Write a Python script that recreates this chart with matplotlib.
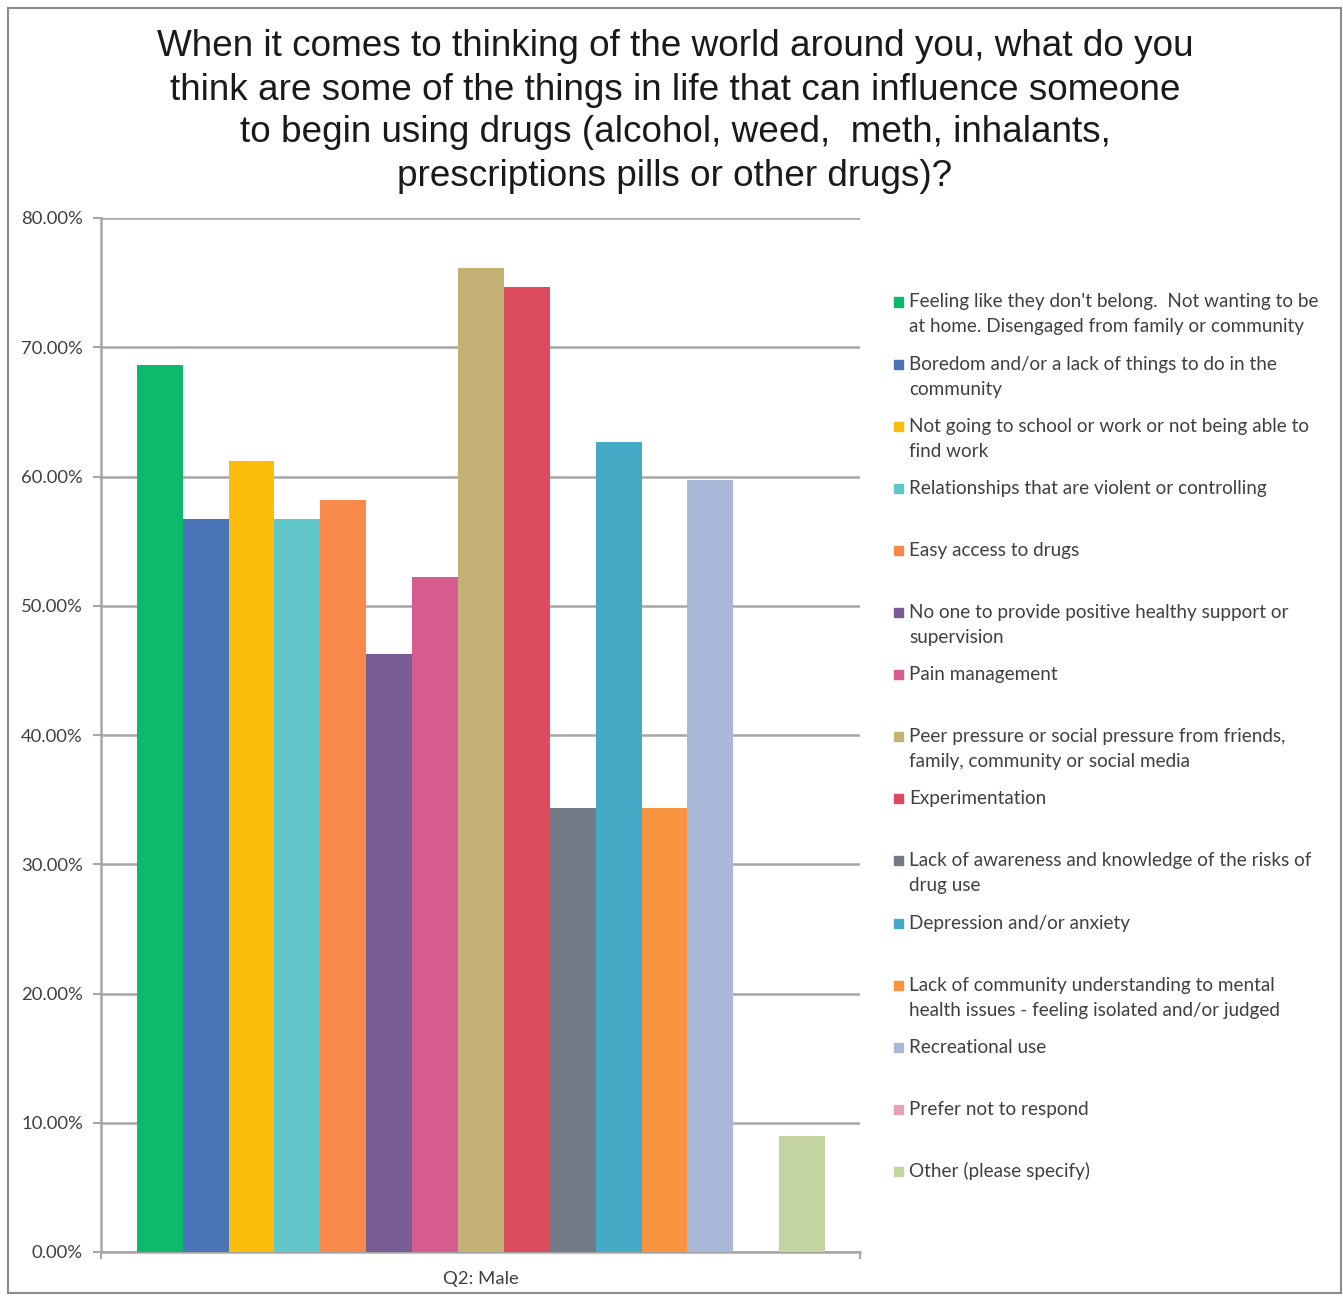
import matplotlib.pyplot as plt
from matplotlib.patches import Rectangle
from matplotlib.ticker import FuncFormatter
import numpy as np

# survey answers (share of respondents, %)
labels = [
    "Feeling like they don't belong.  Not wanting to be\nat home. Disengaged from family or community",
    "Boredom and/or a lack of things to do in the\ncommunity",
    "Not going to school or work or not being able to\nfind work",
    "Relationships that are violent or controlling",
    "Easy access to drugs",
    "No one to provide positive healthy support or\nsupervision",
    "Pain management",
    "Peer pressure or social pressure from friends,\nfamily, community or social media",
    "Experimentation",
    "Lack of awareness and knowledge of the risks of\ndrug use",
    "Depression and/or anxiety",
    "Lack of community understanding to mental\nhealth issues - feeling isolated and/or judged",
    "Recreational use",
    "Prefer not to respond",
    "Other (please specify)",
]
values = [68.66, 56.72, 61.19, 56.72, 58.21, 46.27, 52.24, 76.12,
          74.63, 34.33, 62.69, 34.33, 59.70, 0.00, 8.96]
colors = ["#0DBA6C", "#4A74B8", "#FBBC0B", "#62C7CB", "#F9894A",
          "#7A5C94", "#D65B8F", "#C4B176", "#DD4B5E", "#737C86",
          "#45AAC6", "#F8933F", "#A9B8D8", "#E2A3B3", "#C3D4A1"]
group = "Q2: Male"
title_lines = [
    "When it comes to thinking of the world around you, what do you",
    "think are some of the things in life that can influence someone",
    "to begin using drugs (alcohol, weed,  meth, inhalants,",
    "prescriptions pills or other drugs)?",
]

W, H = 1343, 1298
fig = plt.figure(figsize=(W / 100, H / 100), dpi=100)

def fx(px):
    return px / W

def fy(py):
    return 1 - py / H

grid_col = "#A6A6A6"
txt_col = "#404040"

ax = fig.add_axes([fx(101), fy(1252), fx(860) - fx(101), fy(218) - fy(1252)])
x = np.arange(len(values))
ax.bar(x, values, width=1.0, color=colors, zorder=3)

ax.set_ylim(0, 80)
ax.set_xlim(-1.28, len(values) - 1 + 1.26)
ax.set_yticks(np.arange(0, 81, 10))
ax.yaxis.set_major_formatter(FuncFormatter(lambda v, p: "%.2f%%" % v))
ax.set_xticks([(len(values) - 1) / 2])
ax.set_xticklabels([group])
ax.set_xticks(list(ax.get_xlim()), minor=True)
ax.tick_params(axis="x", which="major", length=0, pad=14)
ax.tick_params(axis="x", which="minor", length=5, width=1.5, color=grid_col)
ax.tick_params(axis="y", length=6, width=1.5, color=grid_col, pad=7)
for lab in ax.get_xticklabels() + ax.get_yticklabels():
    lab.set_family("Lato")
    lab.set_fontsize(13.3)
    lab.set_color(txt_col)

ax.grid(axis="y", color=grid_col, linewidth=1.8, zorder=0)
ax.set_axisbelow(True)
for s in ["top", "right"]:
    ax.spines[s].set_visible(False)
for s in ["left", "bottom"]:
    ax.spines[s].set_color(grid_col)
    ax.spines[s].set_linewidth(1.8)

# title, one line at a time
for i, line in enumerate(title_lines):
    fig.text(fx(675), fy(47 + 43 * i), line, ha="center", va="center",
             family="Liberation Sans", fontsize=26.6, color="#1A1A1A")

# legend drawn as fixed slots
for i, (lab, c) in enumerate(zip(labels, colors)):
    yc = 302 + 62.1 * i
    fig.patches.append(Rectangle((fx(894), fy(yc + 4.5)), fx(9), 9 / H,
                                 transform=fig.transFigure, color=c))
    for j, part in enumerate(lab.split("\n")):
        fig.text(fx(909), fy(yc + 25 * j), part, ha="left", va="center",
                 family="Lato", fontsize=13.6, color=txt_col)

# outer chart frame
fig.patches.append(Rectangle((fx(8), fy(1293)), fx(1341) - fx(8), fy(8) - fy(1293),
                             transform=fig.transFigure, fill=False,
                             edgecolor="#8C8C8C", linewidth=1.5))

fig.savefig("out.png", dpi=100, facecolor="white")
